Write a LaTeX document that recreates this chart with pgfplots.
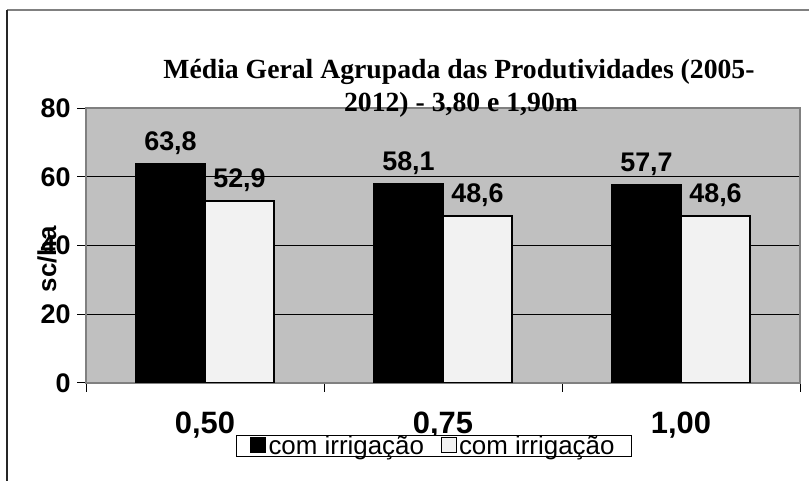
\documentclass[border=0pt]{standalone}
\usepackage{pgfplots}
\pgfplotsset{compat=1.18}
\usepackage{fontspec}
\setmainfont{Liberation Sans}
\newfontfamily\timesf{Liberation Serif}
\definecolor{bggray}{RGB}{192,192,192}
\definecolor{barwhite}{RGB}{242,242,242}
\definecolor{framegray}{RGB}{128,128,128}
\begin{document}
\begin{tikzpicture}
\useasboundingbox (0,0) rectangle (809bp,481bp);
\draw[framegray, line width=2bp] (7bp,471bp) -- (809bp,471bp);
\draw[black!85, line width=1.5bp] (7bp,471bp) -- (7bp,0bp);
\begin{axis}[
  at={(86bp,98bp)}, anchor=south west,
  scale only axis, width=714bp, height=275bp,
  xmin=0, xmax=3, ymin=0, ymax=80,
  axis background/.style={fill=bggray},
  axis line style={draw=framegray, line width=1.5bp},
  ymajorgrids, grid style={black, line width=1bp},
  tick align=outside, major tick length=9bp,
  xtick pos=left, ytick pos=left,
  major tick style={black, line width=1bp},
  xtick={0,1,2,3}, xticklabels={,,,},
  ytick={0,20,40,60,80},
  /pgf/number format/assume math mode=true,
  yticklabel style={font=\bfseries\fontsize{27}{31}\selectfont, xshift=-3bp},
  extra x ticks={0.5,1.5,2.5},
  extra x tick labels={{0,50},{0,75},{1,00}},
  extra x tick style={major tick length=0pt, grid=none,
    xticklabel style={font=\bfseries\fontsize{31}{36}\selectfont, yshift=-25bp}},
  nodes near coords={\pgfmathprintnumber[use comma,fixed,fixed zerofill,precision=1,assume math mode=true]{\pgfplotspointmeta}},
  every node near coord/.append style={font=\bfseries\fontsize{27}{31}\selectfont, black, yshift=5bp},
  legend columns=2,
  legend style={at={(0.4867,-0.229)}, anchor=center, draw=black, fill=white,
    line width=0.8bp, font=\fontsize{26}{30}\selectfont,
    inner xsep=14bp, inner ysep=0bp,
    nodes={inner xsep=2.5bp, inner ysep=0.5bp},
    /tikz/every even column/.append style={column sep=14bp}},
  legend image code/.code={\draw[#1, line width=1bp] (0bp,-7bp) rectangle (15bp,8bp);},
]
\addplot[ybar, bar width=0.29, bar shift=0pt, fill=black, draw=black, line width=1bp]
  coordinates {(0.355,63.8) (1.355,58.1) (2.355,57.7)};
\addlegendentry{com irrigação}
\addplot[ybar, bar width=0.29, bar shift=0pt, fill=barwhite, draw=black, line width=1.5bp]
  coordinates {(0.645,52.9) (1.645,48.6) (2.645,48.6)};
\addlegendentry{com irrigação}
\end{axis}
\node[font=\timesf\bfseries\fontsize{27.8}{32}\selectfont, anchor=base, inner sep=0pt] at (459bp,402bp) {Média Geral Agrupada das Produtividades (2005-};
\node[font=\timesf\bfseries\fontsize{27.8}{32}\selectfont, anchor=base, inner sep=0pt] at (461bp,369bp) {2012) - 3,80 e 1,90m};
\node[font=\bfseries\fontsize{26}{30}\selectfont, rotate=90, inner sep=0pt] at (47bp,222bp) {sc/ha};
\end{tikzpicture}
\end{document}
